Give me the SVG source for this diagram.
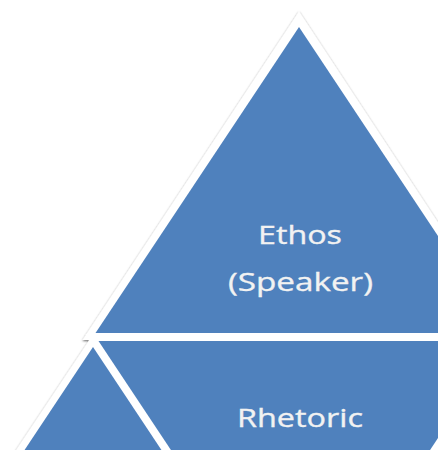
<svg xmlns="http://www.w3.org/2000/svg" width="438" height="450" viewBox="0 0 438 450">
  <defs>
    <filter id="soft-shadow" x="-20%" y="-20%" width="140%" height="140%">
      <feDropShadow dx="0" dy="1" stdDeviation="1" flood-color="#000000" flood-opacity="0.6"/>
    </filter>
  </defs>
  <style>
    .outline { fill: #ffffff; stroke: #ffffff; stroke-width: 14; stroke-linejoin: miter; stroke-miterlimit: 10; }
    .tier { fill: #4f81bd; }
    .label { font-family: "Open Sans", "Liberation Sans", sans-serif; font-size: 26px; fill: #f2f2f2; stroke: #f2f2f2; stroke-width: 0.35; text-anchor: middle; }
  </style>

  <rect width="438" height="450" fill="#ffffff"/>

  <!-- white rims of all tiers, shadowed as one silhouette -->
  <g filter="url(#soft-shadow)">
    <polygon class="outline" points="299,24 95.5,333 502.5,333"/>
    <polygon class="outline" points="93,347 -109,651 295,651"/>
    <polygon class="outline" points="98.5,341 502.5,341 300.5,645"/>
  </g>

  <!-- top tier -->
  <g id="node-ethos">
    <polygon class="tier" points="299,27 95.5,333 502.5,333"/>
    <text class="label" x="300" y="244" textLength="84" lengthAdjust="spacingAndGlyphs">Ethos</text>
    <text class="label" x="300.5" y="291" textLength="145" lengthAdjust="spacingAndGlyphs">(Speaker)</text>
  </g>

  <!-- lower left tier -->
  <g id="node-left">
    <polygon class="tier" points="93,347 -109,651 295,651"/>
  </g>

  <!-- lower middle (inverted) tier -->
  <g id="node-rhetoric">
    <polygon class="tier" points="98.5,341 502.5,341 300.5,645"/>
    <text class="label" x="300" y="427" textLength="126" lengthAdjust="spacingAndGlyphs">Rhetoric</text>
  </g>
</svg>
